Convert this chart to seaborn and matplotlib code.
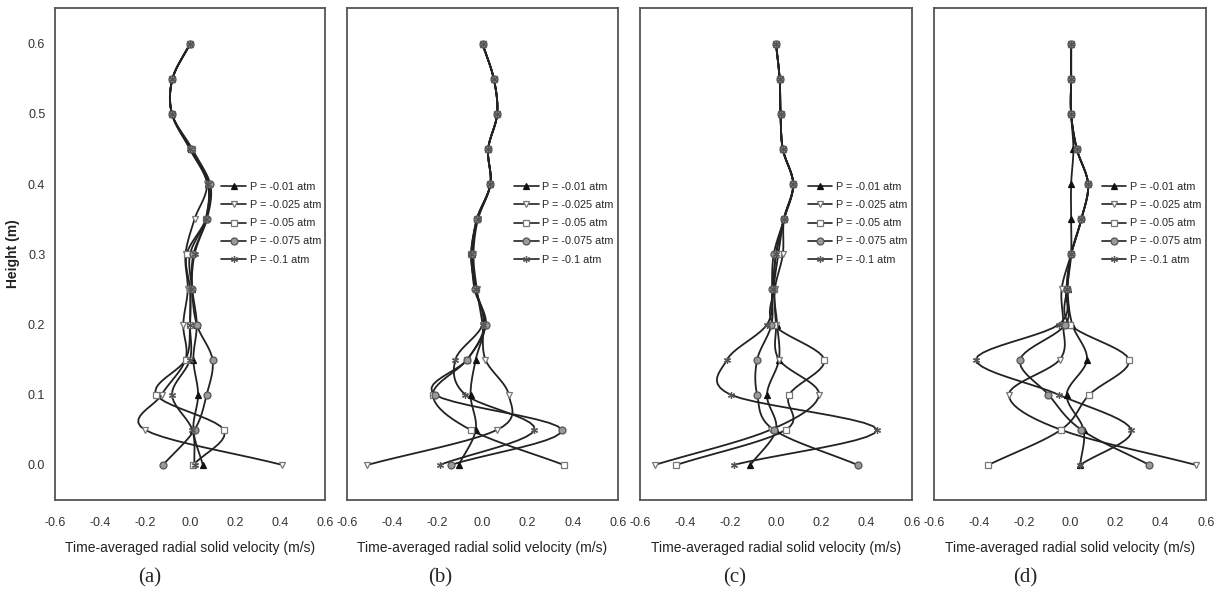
import numpy as np
import pandas as pd
import matplotlib
matplotlib.use("Agg")
import matplotlib.pyplot as plt
from matplotlib.lines import Line2D
import seaborn as sns

sns.set_style("white")
plt.rcParams['font.family'] = ['Liberation Sans Narrow', 'Liberation Sans', 'DejaVu Sans']

# heights (m)
heights = [0.0, 0.05, 0.10, 0.15, 0.20, 0.25, 0.30, 0.35, 0.40, 0.45, 0.50, 0.55, 0.60]
labels = ['P = -0.01 atm', 'P = -0.025 atm', 'P = -0.05 atm', 'P = -0.075 atm', 'P = -0.1 atm']
captions = ['(a)', '(b)', '(c)', '(d)']

# time-averaged radial solid velocity (m/s), one list per pressure, per panel
a_p001 = [0.057, 0.015, 0.036, 0.015, 0.03, 0.01, 0.0, 0.07, 0.08, 0.005, -0.08, -0.078, 0.0]
a_p0025 = [0.41, -0.2, -0.126, -0.02, -0.03, -0.01, -0.02, 0.02, 0.075, 0.0, -0.08, -0.078, 0.0]
a_p005 = [0.015, 0.15, -0.15, -0.02, 0.0, 0.0, -0.015, 0.07, 0.085, 0.01, -0.08, -0.078, 0.0]
a_p0075 = [-0.12, 0.02, 0.074, 0.10, 0.03, 0.01, 0.015, 0.075, 0.09, 0.005, -0.08, -0.078, 0.0]
a_p01 = [0.02, 0.01, -0.08, 0.0, 0.0, 0.005, 0.02, 0.07, 0.08, 0.0, -0.08, -0.078, 0.0]

b_p001 = [-0.105, -0.03, -0.053, -0.03, 0.01, -0.03, -0.045, -0.024, 0.035, 0.025, 0.065, 0.05, 0.0]
b_p0025 = [-0.51, 0.065, 0.116, 0.013, 0.0, -0.025, -0.04, -0.02, 0.035, 0.025, 0.065, 0.05, 0.0]
b_p005 = [0.36, -0.053, -0.22, -0.068, 0.01, -0.03, -0.05, -0.024, 0.035, 0.025, 0.065, 0.05, 0.0]
b_p0075 = [-0.14, 0.35, -0.21, -0.068, 0.015, -0.035, -0.045, -0.026, 0.035, 0.025, 0.065, 0.05, 0.0]
b_p01 = [-0.19, 0.23, -0.076, -0.12, 0.0, -0.03, -0.05, -0.022, 0.035, 0.025, 0.065, 0.05, 0.0]

c_p001 = [-0.113, 0.0, -0.04, 0.013, 0.005, -0.01, 0.0, 0.035, 0.076, 0.03, 0.02, 0.016, 0.0]
c_p0025 = [-0.535, -0.024, 0.19, 0.013, 0.0, -0.005, 0.03, 0.035, 0.076, 0.03, 0.02, 0.016, 0.0]
c_p005 = [-0.44, 0.043, 0.058, 0.213, -0.01, -0.01, 0.01, 0.035, 0.076, 0.03, 0.02, 0.016, 0.0]
c_p0075 = [0.36, -0.01, -0.083, -0.083, -0.02, -0.018, -0.01, 0.035, 0.076, 0.03, 0.02, 0.016, 0.0]
c_p01 = [-0.187, 0.445, -0.2, -0.216, -0.04, -0.015, 0.0, 0.035, 0.076, 0.03, 0.02, 0.016, 0.0]

d_p001 = [0.045, 0.06, -0.015, 0.075, 0.01, -0.01, 0.005, 0.005, 0.005, 0.015, 0.005, 0.005, 0.005]
d_p0025 = [0.555, -0.04, -0.27, -0.045, -0.03, -0.037, 0.005, 0.05, 0.08, 0.03, 0.005, 0.005, 0.005]
d_p005 = [-0.36, -0.04, 0.085, 0.26, 0.0, -0.015, 0.005, 0.05, 0.08, 0.03, 0.005, 0.005, 0.005]
d_p0075 = [0.35, 0.05, -0.095, -0.22, -0.02, -0.015, 0.005, 0.05, 0.08, 0.03, 0.005, 0.005, 0.005]
d_p01 = [0.045, 0.27, -0.05, -0.415, -0.05, -0.015, 0.005, 0.05, 0.08, 0.03, 0.005, 0.005, 0.005]

panels = [
    [a_p001, a_p0025, a_p005, a_p0075, a_p01],
    [b_p001, b_p0025, b_p005, b_p0075, b_p01],
    [c_p001, c_p0025, c_p005, c_p0075, c_p01],
    [d_p001, d_p0025, d_p005, d_p0075, d_p01],
]

# marker styles: marker, face, edge
styles = [
    ('^', '#111111', '#111111'),
    ('v', 'white', '#777777'),
    ('s', 'white', '#777777'),
    ('o', '#9a9a9a', '#555555'),
    ((6, 2, 0), '#555555', '#555555'),
]
line_color = '#222222'


def smooth(h, x, n=10):
    # Catmull-Rom style curve through the points, x as function of height
    h = np.asarray(h, float)
    x = np.asarray(x, float)
    m = np.gradient(x, h)
    hs, xs = [], []
    for i in range(len(h) - 1):
        t = np.linspace(0, 1, n, endpoint=False)
        dh = h[i + 1] - h[i]
        h00 = 2 * t**3 - 3 * t**2 + 1
        h10 = t**3 - 2 * t**2 + t
        h01 = -2 * t**3 + 3 * t**2
        h11 = t**3 - t**2
        xs.append(h00 * x[i] + h10 * dh * m[i] + h01 * x[i + 1] + h11 * dh * m[i + 1])
        hs.append(h[i] + t * dh)
    hs.append([h[-1]])
    xs.append([x[-1]])
    return np.concatenate(hs), np.concatenate(xs)


fig = plt.figure(figsize=(12.25, 5.94), dpi=100)
lefts = [55, 347, 640, 934]
widths = [270, 271, 272, 272]
cap_x = [150, 440, 735, 1025]

for k, series in enumerate(panels):
    ax = fig.add_axes([lefts[k] / 1225, 94 / 594, widths[k] / 1225, 492 / 594])
    for j, vals in enumerate(series):
        hs, xs = smooth(heights, vals)
        df = pd.DataFrame({'h': hs, 'v': xs})
        sns.lineplot(data=df, x='v', y='h', sort=False, estimator=None, orient='y',
                     color=line_color, lw=1.3, ax=ax, legend=False)
        mk, fc, ec = styles[j]
        ax.plot(vals, heights, ls='none', marker=mk, ms=5, mfc=fc, mec=ec, mew=0.9, zorder=3)

    ax.set_xlim(-0.6, 0.6)
    ax.set_ylim(-0.05, 0.651)
    ax.set_xticks([-0.6, -0.4, -0.2, 0.0, 0.2, 0.4, 0.6])
    ax.set_xticklabels(['-0.6', '-0.4', '-0.2', '0.0', '0.2', '0.4', '0.6'])
    ax.tick_params(axis='x', direction='out', length=4, width=1, colors='#333333',
                   labelsize=9, pad=8)
    ax.set_xlabel('Time-averaged radial solid velocity (m/s)', fontsize=10, labelpad=9, color='#222222')
    if k == 0:
        ax.set_yticks([0.0, 0.1, 0.2, 0.3, 0.4, 0.5, 0.6])
        ax.set_yticklabels(['0.0', '0.1', '0.2', '0.3', '0.4', '0.5', '0.6'])
        ax.tick_params(axis='y', direction='out', length=4, width=1, colors='#333333',
                       labelsize=9, pad=3)
        ax.set_ylabel('Height (m)', fontsize=10, fontweight='bold', labelpad=6, color='#222222')
    else:
        ax.set_yticks([])
        ax.set_ylabel('')
    for s in ax.spines.values():
        s.set_color('#555555')
        s.set_linewidth(1.3)

    handles = [Line2D([0], [0], color=line_color, lw=1.2, marker=m, ms=5, mfc=fc, mec=ec, mew=0.9)
               for (m, fc, ec) in styles]
    ax.legend(handles, labels, loc='upper left', bbox_to_anchor=(0.6, 0.655), frameon=False,
              fontsize=7.8, handlelength=2.3, handletextpad=0.3, labelspacing=0.75,
              borderaxespad=0)

    fig.text(cap_x[k] / 1225, 1 - 578 / 594, captions[k], ha='center', va='center',
             fontsize=15, family=['Liberation Serif', 'DejaVu Serif'])

fig.savefig('out.png', dpi=100)
